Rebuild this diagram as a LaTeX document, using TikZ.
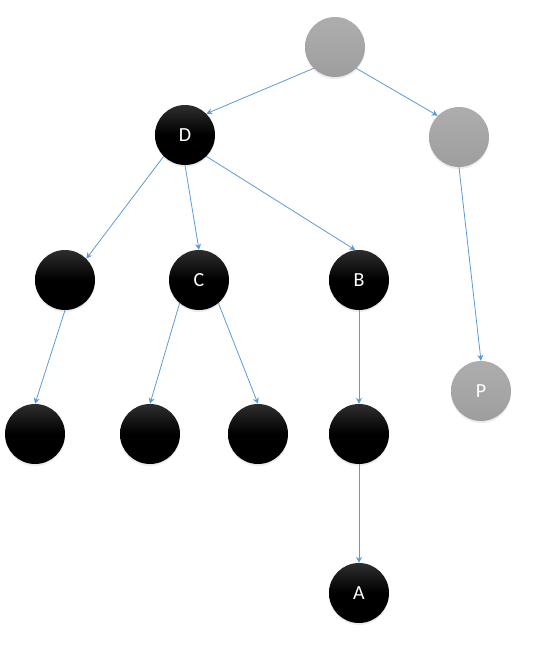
\documentclass[tikz,border=0pt]{standalone}
\usepackage{fontspec}
\setmainfont{Carlito}
\usetikzlibrary{arrows.meta,shadows}
\definecolor{Ctreeblue}{HTML}{5B9BD5}
\definecolor{Ctreegray}{HTML}{A6A6A6}

\begin{document}
\begin{tikzpicture}[x=1pt,y=-1pt,
		blacknode/.style={circle,minimum size=60pt,inner sep=0pt,top color=black!82,bottom color=black,middle color=black,
			text=white,font=\fontsize{20}{24}\selectfont,drop shadow={opacity=0.15,shadow xshift=0pt,shadow yshift=-2pt}},
		graynode/.style={blacknode,top color=Ctreegray!92!white,bottom color=Ctreegray!95!black,middle color=Ctreegray},
		treeedge/.style={Ctreeblue,line width=0.8pt,-{Stealth[length=6pt,width=6pt]}}]
		\useasboundingbox (0,0) rectangle (559,657);
		\node[graynode] (root) at (335,47) {};
		\node[blacknode] (d) at (185,135) {D};
		\node[graynode] (g) at (459,137) {};
		\node[blacknode] (l) at (65,280) {};
		\node[blacknode] (c) at (199,280) {C};
		\node[blacknode] (b) at (359,280) {B};
		\node[graynode] (p) at (481,391) {P};
		\node[blacknode] (ll) at (35,434) {};
		\node[blacknode] (cl) at (150,434) {};
		\node[blacknode] (cr) at (258,434) {};
		\node[blacknode] (bb) at (359,434) {};
		\node[blacknode] (a) at (359,593) {A};
		\draw[treeedge] (root.-135) -- (d.45);
		\draw[treeedge] (root.-45) -- (g.135);
		\draw[treeedge] (d.-135) -- (l.45);
		\draw[treeedge] (d.south) -- (c.north);
		\draw[treeedge] (d.-45) -- (b.97);
		\draw[treeedge] (g.south) -- (p.north);
		\draw[treeedge] (l.south) -- (ll.north);
		\draw[treeedge] (c.-130) -- (cl.north);
		\draw[treeedge] (c.-50) -- (cr.north);
		\draw[treeedge] (b.south) -- (bb.north);
		\draw[treeedge] (bb.south) -- (a.north);
	\end{tikzpicture}
\end{document}
